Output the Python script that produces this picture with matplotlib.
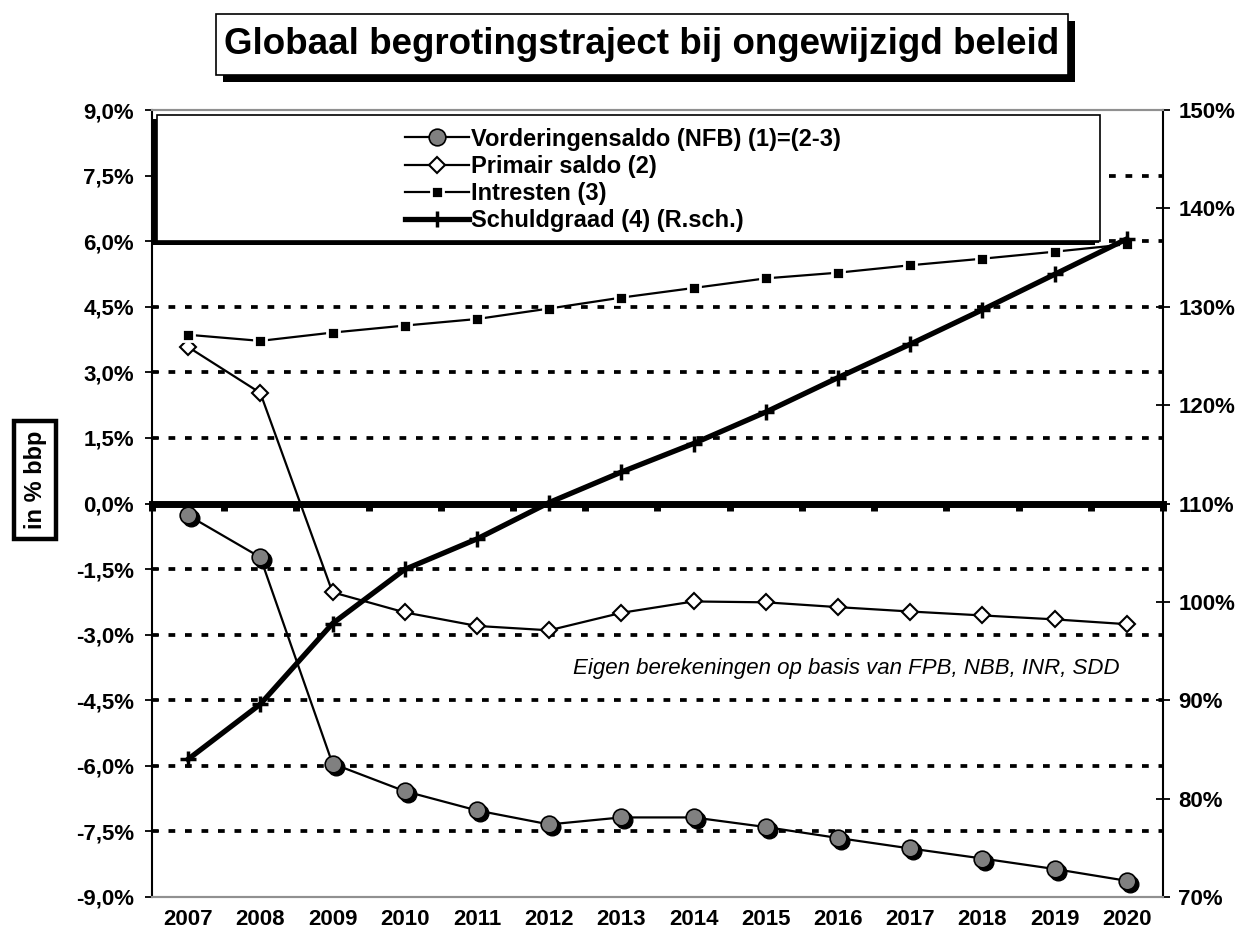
import numpy as np
import matplotlib.pyplot as plt
import matplotlib.transforms as mtransforms
from matplotlib.patches import Rectangle
from matplotlib.ticker import FuncFormatter

plt.rcParams['font.family'] = ['Liberation Sans', 'DejaVu Sans']
plt.rcParams['font.weight'] = 'bold'

# data
years = ['2007', '2008', '2009', '2010', '2011', '2012', '2013',
         '2014', '2015', '2016', '2017', '2018', '2019', '2020']
vorderingensaldo = [-0.27, -1.23, -5.95, -6.58, -7.02, -7.34, -7.18,
                    -7.18, -7.40, -7.65, -7.89, -8.12, -8.36, -8.63]
primair_saldo = [3.58, 2.53, -2.03, -2.49, -2.80, -2.90, -2.50,
                 -2.24, -2.26, -2.37, -2.47, -2.56, -2.65, -2.76]
intresten = [3.86, 3.72, 3.91, 4.07, 4.22, 4.46, 4.71,
             4.93, 5.15, 5.28, 5.45, 5.60, 5.76, 5.93]
schuldgraad = [84.0, 89.6, 97.8, 103.3, 106.4, 110.1, 113.2,
               116.1, 119.3, 122.8, 126.2, 129.7, 133.3, 136.9]

left_ticks = np.arange(-9, 9.01, 1.5)
right_ticks = np.arange(70, 151, 10)
labels = ['Vorderingensaldo (NFB) (1)=(2-3)', 'Primair saldo (2)',
          'Intresten (3)', 'Schuldgraad (4) (R.sch.)']
source = 'Eigen berekeningen op basis van FPB, NBB, INR, SDD'

fig = plt.figure(figsize=(12.55, 9.47), dpi=100)
ax = fig.add_axes([0.1211, 0.0528, 0.8056, 0.8310])
x = np.arange(len(years))
ax.set_xlim(-0.5, len(years) - 0.5)
ax.set_ylim(-9, 9)

ax2 = ax.twinx()
ax2.set_ylim(70, 150)

# dotted grid on the left-axis ticks
for t in left_ticks[1:-1]:
    if t != 0:
        ax.axhline(t, color='black', lw=2.7, ls=(0, (1.8, 2.6)), zorder=1)

# legend frame with shadow (covers the grid)
ax.add_patch(Rectangle((0.0, 0.828), 0.933, 0.160, transform=ax.transAxes,
                       fc='black', ec='none', zorder=2, clip_on=False))
ax.add_patch(Rectangle((0.005, 0.834), 0.933, 0.160, transform=ax.transAxes,
                       fc='white', ec='black', lw=1.2, zorder=2.1, clip_on=False))

# series
shadow = mtransforms.offset_copy(ax.transData, fig=fig, x=3, y=-3, units='dots')
ax.plot(x, vorderingensaldo, ls='none', marker='o', ms=12, mfc='black',
        mec='black', transform=shadow, zorder=3)
l1, = ax.plot(x, vorderingensaldo, color='black', lw=1.6, marker='o', ms=12,
              mfc='#808080', mec='black', mew=1.2, zorder=4)
l2, = ax.plot(x, primair_saldo, color='black', lw=1.6, marker='D', ms=8,
              mfc='white', mec='black', mew=1.5, zorder=4)
l3, = ax.plot(x, intresten, color='black', lw=1.6, marker='s', ms=8,
              mfc='black', mec='white', mew=2, zorder=4)
l4, = ax2.plot(x, schuldgraad, color='black', lw=3.8, marker='+', ms=12,
               mew=2.5, zorder=4)

# zero line with category-boundary ticks
ax3 = ax.twiny()
ax3.set_xlim(ax.get_xlim())
for s in ['top', 'left', 'right']:
    ax3.spines[s].set_visible(False)
ax3.spines['bottom'].set_visible(True)
ax3.spines['bottom'].set_position(('data', 0))
ax3.spines['bottom'].set_linewidth(5)
ax3.xaxis.set_ticks_position('bottom')
ax3.set_xticks(np.arange(-0.5, len(years), 1))
ax3.tick_params(axis='x', direction='out', length=5, width=5,
                labelbottom=False, labeltop=False)

# axes styling
ax.set_xticks(x)
ax.set_xticklabels(years)
ax.tick_params(axis='x', length=0, pad=9, labelsize=16)
ax.set_yticks(left_ticks)
ax.yaxis.set_major_formatter(FuncFormatter(lambda v, p: f'{v:.1f}%'.replace('.', ',')))
ax.tick_params(axis='y', direction='inout', length=10, width=1.3, pad=8, labelsize=16)
ax2.set_yticks(right_ticks)
ax2.yaxis.set_major_formatter(FuncFormatter(lambda v, p: f'{v:.0f}%'))
ax2.tick_params(axis='y', direction='inout', length=10, width=1.3, pad=6, labelsize=16)
for a in (ax, ax2):
    a.spines['top'].set_color('#909090')
    a.spines['bottom'].set_color('#909090')
    a.spines['top'].set_linewidth(1.5)
    a.spines['bottom'].set_linewidth(1.5)
ax.spines['left'].set_linewidth(1.5)
ax.spines['right'].set_visible(False)
ax2.spines['left'].set_visible(False)
ax2.spines['right'].set_linewidth(1.5)

ax3.legend([l1, l2, l3, l4], labels, loc='center', bbox_to_anchor=(0.466, 0.911),
           bbox_transform=ax.transAxes, frameon=False, fontsize=17,
           handlelength=2.7, handletextpad=0.1, labelspacing=0.18, borderpad=0)

ax.text(12.9, -3.78, source, ha='right', va='center', style='italic',
        fontweight='normal', fontsize=16)

fig.text(0.028, 0.493, 'in % bbp', rotation=90, ha='center', va='center', fontsize=17,
         bbox=dict(boxstyle='square,pad=0.4', fc='white', ec='black', lw=3.2))

# title in a box with drop shadow
fig.patches.append(Rectangle((0.1777, 0.9135), 0.6789, 0.0644, transform=fig.transFigure,
                             fc='black', ec='none'))
fig.patches.append(Rectangle((0.1721, 0.9208), 0.6789, 0.0644, transform=fig.transFigure,
                             fc='white', ec='black', lw=1.2))
fig.text(0.5115, 0.9535, 'Globaal begrotingstraject bij ongewijzigd beleid',
         ha='center', va='center', fontsize=26.5)

fig.savefig('out.png', dpi=100)
